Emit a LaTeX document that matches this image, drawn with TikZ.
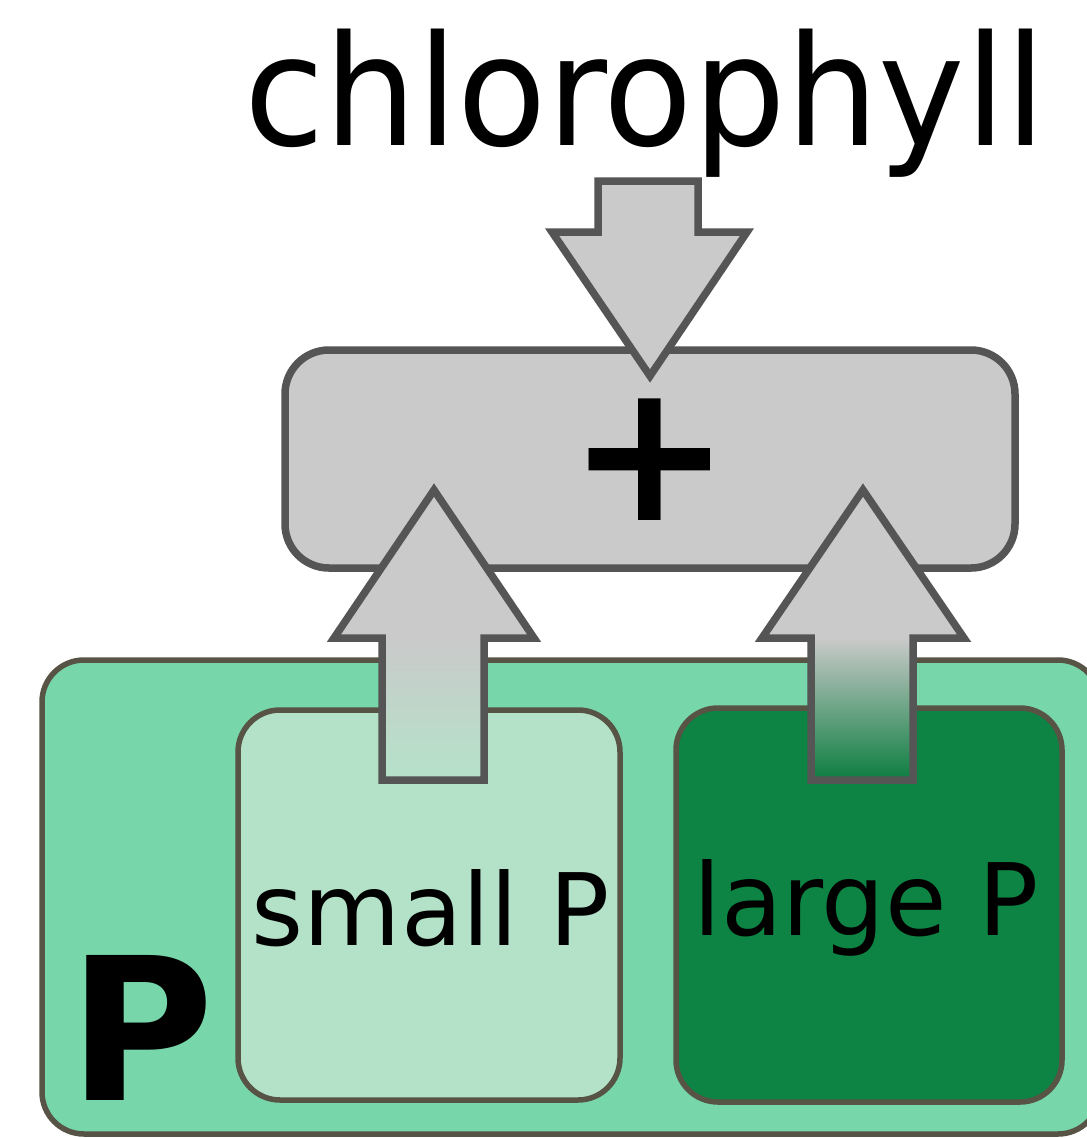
\documentclass[tikz,border=0pt]{standalone}
\usepackage{fontspec}
\setmainfont{DejaVu Sans}
\definecolor{boxgray}{HTML}{CACACA}
\definecolor{edgegray}{HTML}{555555}
\definecolor{midgreen}{HTML}{77D6AA}
\definecolor{palegreen}{HTML}{B4E2C9}
\definecolor{darkgreen}{HTML}{0D8443}
\definecolor{greenedge}{HTML}{575446}
\tikzset{
  greenbox/.style={draw=greenedge, line width=5.5pt, rounded corners=42pt, inner sep=0pt},
  graybox/.style={draw=edgegray, fill=boxgray, line width=7.5pt, rounded corners=44pt, inner sep=0pt},
  arrowline/.style={draw=edgegray, line width=7.5pt, line join=miter, miter limit=20},
  lbl/.style={inner sep=0pt, anchor=base, text=black}
}
\begin{document}
\begin{tikzpicture}[x=1pt, y=-1pt]
\useasboundingbox (0,0) rectangle (1087,1138);
\clip (0,0) rectangle (1087,1138);
\fill[white] (0,0) rectangle (1087,1138);

% P container and its two parts
\node[greenbox, fill=midgreen, minimum width=1058pt, minimum height=474pt] (pbox) at (571,897) {};
\node[greenbox, fill=palegreen, minimum width=382pt, minimum height=390pt] (smallbox) at (429,905) {};
\node[greenbox, fill=darkgreen, minimum width=386pt, minimum height=394pt] (largebox) at (869,905) {};

% plus box
\node[graybox, minimum width=730pt, minimum height=218pt] (plusbox) at (650,459) {};

% text
\node[lbl, font=\fontsize{146}{170}\selectfont, yscale=1.05] (chl) at (645,145) {chlorophyll};
\node[lbl, font=\bfseries\fontsize{194}{220}\selectfont] (plus) at (650,520) {+};
\node[lbl, font=\bfseries\fontsize{199}{230}\selectfont] (bigP) at (141,1100) {P};
\node[lbl, font=\fontsize{100}{120}\selectfont] (smallP) at (431,945) {small P};
\node[lbl, font=\fontsize{100}{120}\selectfont] (largeP) at (866,935) {large P};

% down arrow from chlorophyll into the plus box
\coordinate (dtip) at (650,376);
\draw[arrowline, fill=boxgray] (598,181) -- (698,181) -- (698,232) -- (747,232) -- (dtip) -- (552,232) -- (598,232) -- cycle;

% up arrow from small P
\coordinate (ltip) at (434,490);
\shade[top color=boxgray, bottom color=palegreen] (382,638) rectangle (484,780);
\fill[boxgray] (332,638) -- (536,638) -- (ltip) -- cycle;
\draw[arrowline] (382,780) -- (382,638) -- (334,638) -- (ltip) -- (534,638) -- (484,638) -- (484,780) -- cycle;

% up arrow from large P
\coordinate (rtip) at (863,490);
\shade[top color=boxgray, bottom color=darkgreen!95!black] (811,638) rectangle (913,780);
\fill[boxgray] (762,638) -- (964,638) -- (rtip) -- cycle;
\draw[arrowline] (811,780) -- (811,638) -- (762,638) -- (rtip) -- (964,638) -- (913,638) -- (913,780) -- cycle;
\end{tikzpicture}
\end{document}
